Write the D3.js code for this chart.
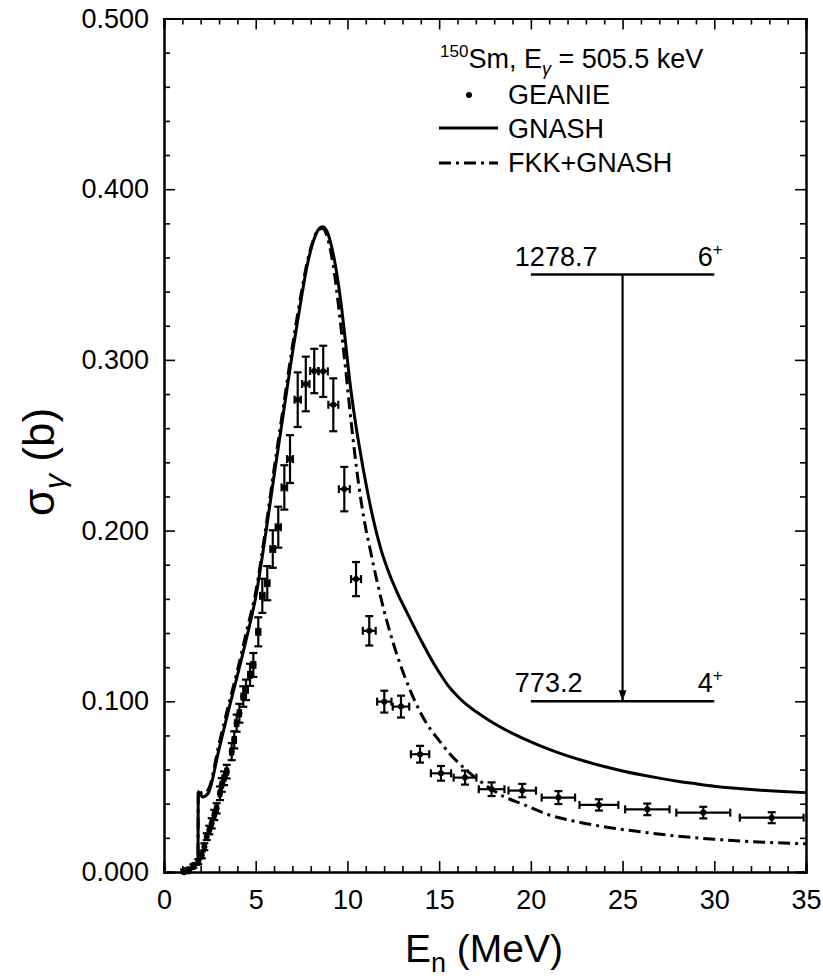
<!DOCTYPE html>
<html><head><meta charset="utf-8">
<script src="https://cdn.jsdelivr.net/npm/d3@7"></script>
<style>body{margin:0;background:#fff;} svg{display:block;} text{font-family:"Liberation Sans",Arial,sans-serif;fill:#000;}</style>
</head><body>
<svg id="c" width="823" height="980"></svg>
<script>
// GEANIE data
const geanieE = [1.09,1.32,1.60,1.87,2.06,2.20,2.33,2.47,2.60,2.74,2.87,3.05,3.15,3.27,3.42,3.69,3.83,3.96,4.11,4.32,4.47,4.69,4.87,5.14,5.36,5.63,5.93,6.23,6.56,6.87,7.29,7.73,8.19,8.68,9.23,9.83,10.47,11.19,12.01,12.92,13.96,15.10,16.41,17.86,19.53,21.50,23.71,26.35,29.40,33.13];
const geanieS = [0.0005,0.001,0.0035,0.006,0.010,0.0148,0.0207,0.0246,0.0285,0.0334,0.0373,0.0461,0.051,0.0549,0.0588,0.0705,0.0774,0.0872,0.093,0.1028,0.1067,0.1155,0.1213,0.1407,0.1618,0.1692,0.1892,0.202,0.2253,0.2419,0.2767,0.2859,0.2935,0.2933,0.2737,0.2243,0.1716,0.1413,0.0998,0.0969,0.069,0.0578,0.0553,0.0485,0.0477,0.0436,0.0393,0.0367,0.0348,0.0318];
const geanieSErr = [0.001,0.001,0.001,0.0015,0.002,0.002,0.002,0.0025,0.003,0.003,0.003,0.004,0.004,0.004,0.004,0.005,0.005,0.005,0.0055,0.006,0.006,0.0065,0.007,0.0085,0.010,0.010,0.011,0.012,0.013,0.014,0.016,0.016,0.013,0.015,0.0155,0.013,0.010,0.0086,0.0064,0.0064,0.0049,0.0043,0.0041,0.004,0.0039,0.0038,0.0033,0.0034,0.0034,0.0032];
const geanieEErr = [0.05,0.05,0.05,0.05,0.05,0.05,0.06,0.06,0.06,0.06,0.07,0.07,0.07,0.08,0.08,0.08,0.09,0.09,0.09,0.1,0.1,0.1,0.11,0.11,0.12,0.12,0.13,0.14,0.15,0.16,0.17,0.2,0.22,0.25,0.27,0.3,0.27,0.35,0.39,0.45,0.5,0.55,0.62,0.70,0.75,0.91,1.06,1.21,1.47,1.74];

// GNASH curve
const gnashE = [1.1,1.4,1.7,1.85,1.87,2.1,2.4,3.0,3.5,4.0,4.5,5.0,5.5,6.0,6.5,7.0,7.5,7.8,8.1,8.4,8.65,8.9,9.1,9.3,9.5,9.7,9.9,10.1,10.4,10.7,11.0,11.4,11.8,12.2,12.7,13.2,14.0,14.5,15.0,15.5,16.0,16.5,17.0,18.0,19.0,20.0,21.0,22.0,23.0,24.0,25.0,26.0,27.0,28.0,29.0,30.0,31.0,32.0,33.0,34.0,35.0];
const gnashS = [0.0,0.001,0.004,0.006,0.047,0.044,0.046,0.072,0.094,0.115,0.137,0.161,0.195,0.232,0.268,0.304,0.337,0.355,0.368,0.376,0.378,0.375,0.368,0.358,0.345,0.329,0.31,0.29,0.266,0.246,0.228,0.207,0.190,0.177,0.164,0.153,0.136,0.126,0.117,0.109,0.103,0.098,0.094,0.087,0.0812,0.0762,0.0718,0.068,0.0647,0.0618,0.0592,0.057,0.055,0.0532,0.0517,0.0503,0.0492,0.0483,0.0476,0.047,0.0465];

// FKK+GNASH curve
const fkkE = [1.1,1.4,1.7,1.85,1.87,2.1,2.4,3.0,3.5,4.0,4.5,5.0,5.5,6.0,6.5,7.0,7.5,7.8,8.1,8.4,8.65,8.9,9.1,9.3,9.5,9.7,9.9,10.1,10.4,10.6,10.9,11.2,11.6,12.0,12.5,12.9,13.4,14.0,14.5,15.0,15.6,16.3,17.2,18.5,19.5,21.0,22.5,24.0,26.0,28.0,30.0,32.0,35.0];
const fkkS = [0.0,0.001,0.004,0.006,0.048,0.046,0.048,0.075,0.097,0.118,0.141,0.164,0.198,0.236,0.272,0.308,0.340,0.357,0.369,0.376,0.377,0.372,0.363,0.350,0.333,0.314,0.295,0.274,0.245,0.228,0.207,0.191,0.171,0.153,0.134,0.121,0.107,0.093,0.084,0.077,0.069,0.0615,0.0535,0.0443,0.040,0.0334,0.0295,0.0265,0.0235,0.021,0.0192,0.0178,0.0165];

const xTicks = [0,5,10,15,20,25,30,35];
const yTicks = [0,0.1,0.2,0.3,0.4,0.5];
const legendLabels = ["GEANIE","GNASH","FKK+GNASH"];
const levels = [{e:"1278.7", j:"6", s:0.35},{e:"773.2", j:"4", s:0.1}];

const svg = d3.select("#c");
const L=164, R=806, T=18.5, B=872;
const x = d3.scaleLinear().domain([0,35]).range([L,R]);
const y = d3.scaleLinear().domain([0,0.5]).range([B,T]);
const DASH = "12,5,3,5";

// Axes
const fmt = d3.format(".3f");
const minorX = d3.range(0,36,1).filter(v=>v%5!==0);
const minorY = d3.range(0,0.5001,0.02).filter(v=>Math.abs(v*10-Math.round(v*10))>1e-6);
function styleAxis(g){g.select(".domain").attr("stroke","#000").attr("stroke-width",2);g.selectAll(".tick line").attr("stroke","#000").attr("stroke-width",1.6);g.selectAll("text").style("font-family","Liberation Sans, Arial, sans-serif").style("font-size","27px").attr("fill","#000");}
svg.append("g").attr("transform",`translate(0,${B})`).call(d3.axisBottom(x).tickValues(xTicks).tickSize(-11).tickPadding(18).tickFormat(d3.format("d"))).call(styleAxis);
svg.append("g").attr("transform",`translate(0,${B})`).call(d3.axisBottom(x).tickValues(minorX).tickSize(-6).tickFormat("")).call(styleAxis);
svg.append("g").attr("transform",`translate(0,${T})`).call(d3.axisTop(x).tickValues(xTicks).tickSize(-11).tickFormat("")).call(styleAxis);
svg.append("g").attr("transform",`translate(0,${T})`).call(d3.axisTop(x).tickValues(minorX).tickSize(-6).tickFormat("")).call(styleAxis);
svg.append("g").attr("transform",`translate(${L},0)`).call(d3.axisLeft(y).tickValues(yTicks).tickSize(-11).tickPadding(15).tickFormat(fmt)).call(styleAxis);
svg.append("g").attr("transform",`translate(${L},0)`).call(d3.axisLeft(y).tickValues(minorY).tickSize(-6).tickFormat("")).call(styleAxis);
svg.append("g").attr("transform",`translate(${R},0)`).call(d3.axisRight(y).tickValues(yTicks).tickSize(-11).tickFormat("")).call(styleAxis);
svg.append("g").attr("transform",`translate(${R},0)`).call(d3.axisRight(y).tickValues(minorY).tickSize(-6).tickFormat("")).call(styleAxis);

// Curves
const line = d3.line().x(d=>x(d[0])).y(d=>y(d[1])).curve(d3.curveMonotoneX);
svg.append("path").attr("d",line(gnashE.map((e,i)=>[e,gnashS[i]]))).attr("fill","none").attr("stroke","#000").attr("stroke-width",3);
svg.append("path").attr("d",line(fkkE.map((e,i)=>[e,fkkS[i]]))).attr("fill","none").attr("stroke","#000").attr("stroke-width",3).attr("stroke-dasharray",DASH);

// Data points with error bars
const pts = geanieE.map((e,i)=>({e, s:geanieS[i], ds:geanieSErr[i], de:geanieEErr[i]}));
const gp = svg.append("g").attr("stroke","#000").attr("stroke-width",2.2);
const cap=4;
pts.forEach(p=>{
  const cx=x(p.e), cy=y(p.s), y1=y(p.s+p.ds), y2=y(p.s-p.ds), x1=x(p.e-p.de), x2=x(p.e+p.de);
  gp.append("line").attr("x1",cx).attr("x2",cx).attr("y1",y1).attr("y2",y2);
  gp.append("line").attr("x1",cx-cap).attr("x2",cx+cap).attr("y1",y1).attr("y2",y1);
  gp.append("line").attr("x1",cx-cap).attr("x2",cx+cap).attr("y1",y2).attr("y2",y2);
  gp.append("line").attr("x1",x1).attr("x2",x2).attr("y1",cy).attr("y2",cy);
  gp.append("line").attr("x1",x1).attr("x2",x1).attr("y1",cy-cap).attr("y2",cy+cap);
  gp.append("line").attr("x1",x2).attr("x2",x2).attr("y1",cy-cap).attr("y2",cy+cap);
  gp.append("circle").attr("cx",cx).attr("cy",cy).attr("r",3).attr("fill","#000").attr("stroke","none");
});

// Level scheme
const lg = svg.append("g");
levels.forEach(l=>{
  lg.append("line").attr("x1",x(20)).attr("x2",x(30)).attr("y1",y(l.s)).attr("y2",y(l.s)).attr("stroke","#000").attr("stroke-width",2.4);
  lg.append("text").attr("x",x(20)-16).attr("y",y(l.s)-9).style("font-size","27px").text(l.e);
  const t=lg.append("text").attr("x",x(29.1)).attr("y",y(l.s)-9).style("font-size","27px");
  t.append("tspan").text(l.j);
  t.append("tspan").attr("dy",-11).style("font-size","17px").text("+");
});
const defs = svg.append("defs");
defs.append("marker").attr("id","ah").attr("viewBox","0 0 10 10").attr("refX",10).attr("refY",5).attr("markerWidth",5).attr("markerHeight",5).attr("markerUnits","strokeWidth").attr("orient","auto")
  .append("path").attr("d","M0,1.5 L10,5 L0,8.5 Z").attr("fill","#000");
lg.append("line").attr("x1",x(25)).attr("x2",x(25)).attr("y1",y(levels[0].s)).attr("y2",y(levels[1].s)).attr("stroke","#000").attr("stroke-width",2.2).attr("marker-end","url(#ah)");

// Legend
const leg = svg.append("g");
const t0 = leg.append("text").attr("x",440).attr("y",68).style("font-size","27px");
t0.append("tspan").attr("dy",-11).style("font-size","17px").text("150");
t0.append("tspan").attr("dy",11).text("Sm, E");
t0.append("tspan").attr("dy",7).style("font-size","18px").style("font-style","italic").text("γ");
t0.append("tspan").attr("dy",-7).text(" = 505.5 keV");
leg.append("circle").attr("cx",469).attr("cy",95).attr("r",3).attr("fill","#000");
leg.append("text").attr("x",508).attr("y",104).style("font-size","27px").text(legendLabels[0]);
leg.append("line").attr("x1",439).attr("x2",498).attr("y1",128).attr("y2",128).attr("stroke","#000").attr("stroke-width",3);
leg.append("text").attr("x",508).attr("y",138).style("font-size","27px").text(legendLabels[1]);
leg.append("line").attr("x1",439).attr("x2",498).attr("y1",163).attr("y2",163).attr("stroke","#000").attr("stroke-width",3).attr("stroke-dasharray",DASH);
leg.append("text").attr("x",508).attr("y",172).style("font-size","27px").text(legendLabels[2]);

// Axis titles
const xt = svg.append("text").attr("x",484).attr("y",962).attr("text-anchor","middle").style("font-size","39px");
xt.append("tspan").text("E");
xt.append("tspan").attr("dy",10).style("font-size","27px").text("n");
xt.append("tspan").attr("dy",-10).text(" (MeV)");
const yt = svg.append("text").attr("transform","translate(54,462) rotate(-90)").attr("text-anchor","middle").style("font-size","44px");
yt.append("tspan").text("σ");
yt.append("tspan").attr("dy",11).style("font-size","30px").style("font-style","italic").text("γ");
yt.append("tspan").attr("dy",-11).text(" (b)");
</script>
</body></html>
